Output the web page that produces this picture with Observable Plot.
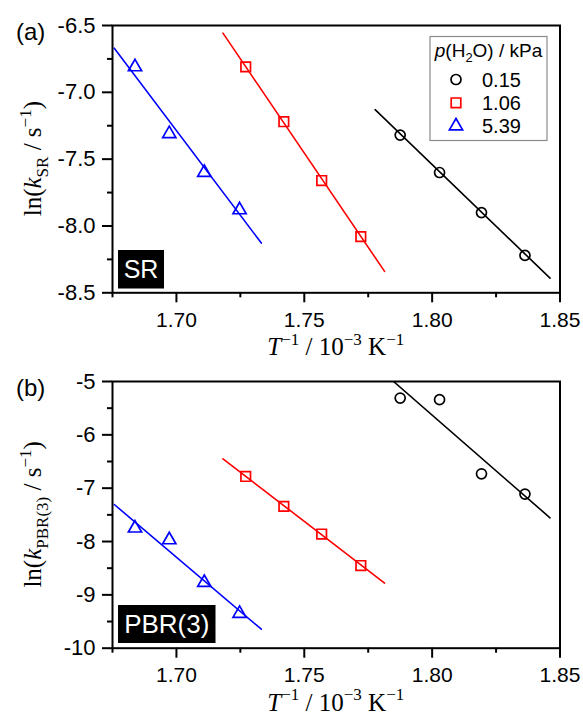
<!DOCTYPE html>
<html><head><meta charset="utf-8">
<script src="https://cdn.jsdelivr.net/npm/d3@7"></script>
<script src="https://cdn.jsdelivr.net/npm/@observablehq/plot@0.6"></script>
<style>
body{margin:0;background:#fff}
#chart{width:583px;height:720px;position:relative}
#chart svg{display:block}
</style>
</head><body><div id="chart"></div>
<script>
// ---------- data ----------
const seriesNames = ["0.15", "1.06", "5.39"];          // p(H2O) / kPa
const seriesColors = ["#000000", "#ff0000", "#0000ff"];
const seriesSymbols = ["circle", "square", "triangle"];

// inverse temperature, 10^-3 K^-1
const invT_015 = [1.7875, 1.8029, 1.8193, 1.8363];
const invT_106 = [1.7271, 1.7420, 1.7568, 1.7721];
const invT_539 = [1.6838, 1.6972, 1.7109, 1.7247];

// panel (a): ln(k_SR / s^-1)
const lnkSR_015 = [-7.32, -7.60, -7.90, -8.22];
const lnkSR_106 = [-6.81, -7.22, -7.66, -8.08];
const lnkSR_539 = [-6.81, -7.31, -7.60, -7.88];

// panel (b): ln(k_PBR(3) / s^-1)
const lnkPBR_015 = [-5.31, -5.34, -6.73, -7.11];
const lnkPBR_106 = [-6.78, -7.34, -7.86, -8.45];
const lnkPBR_539 = [-7.75, -7.97, -8.77, -9.35];

// fitted lines (end points)
const fitSR_x_015 = [1.7777, 1.8461], fitSR_y_015 = [-7.13, -8.39];
const fitSR_x_106 = [1.7182, 1.7814], fitSR_y_106 = [-6.557, -8.34];
const fitSR_x_539 = [1.6757, 1.7332], fitSR_y_539 = [-6.67, -8.128];
const fitPBR_x_015 = [1.7849, 1.8461], fitPBR_y_015 = [-5.0, -7.556];
const fitPBR_x_106 = [1.7182, 1.7814], fitPBR_y_106 = [-6.45, -8.78];
const fitPBR_x_539 = [1.6757, 1.7332], fitPBR_y_539 = [-7.306, -9.644];

// axes
const xDomain = [1.675, 1.85];
const xTicks = [1.70, 1.75, 1.80, 1.85];
const xMinor = [1.675, 1.725, 1.775, 1.825];
const yDomainA = [-8.5, -6.5];
const yTicksA = [-6.5, -7.0, -7.5, -8.0, -8.5];
const yMinorA = [-6.75, -7.25, -7.75, -8.25];
const yDomainB = [-10, -5];
const yTicksB = [-5, -6, -7, -8, -9, -10];
const yMinorB = [-5.5, -6.5, -7.5, -8.5, -9.5];

// ---------- helpers ----------
const SANS = "'Liberation Sans', Arial, sans-serif";
const SERIF = "'Liberation Serif', 'Times New Roman', serif";
const symR = {circle: 5.0, square: 5.4, triangle: 4.9};

function zip(xs, ys) { return xs.map((x, i) => ({x, y: ys[i]})); }

function richText(g, parts, fs) {
  let shift = 0;
  parts.forEach(p => {
    const ts = g.append("tspan").text(p.t);
    let s = 0, size = fs;
    if (p.sub) { s = 0.28 * fs; size = fs * 0.68; }
    if (p.sup) { s = -0.42 * fs; size = fs * 0.68; }
    ts.attr("font-size", size);
    if (s - shift !== 0) ts.attr("dy", s - shift);
    shift = s;
    if (p.i) ts.attr("font-style", "italic");
  });
}

function panel(cfg) {
  const marks = [
    Plot.axisX(xMinor, {tickSize: 5, strokeWidth: 2, tickFormat: () => "", label: null}),
    Plot.axisX(xTicks, {tickSize: 10, strokeWidth: 2, tickPadding: 9, fontSize: 21,
      tickFormat: d => d.toFixed(2), label: null}),
    Plot.axisY(cfg.yMinor, {tickSize: 5, strokeWidth: 2, tickFormat: () => "", label: null}),
    Plot.axisY(cfg.yTicks, {tickSize: 10, strokeWidth: 2, tickPadding: 7, fontSize: 22,
      tickFormat: cfg.yFmt, label: null})
  ];
  cfg.series.forEach((s, i) => {
    marks.push(Plot.line(zip(s.fx, s.fy), {x: "x", y: "y", stroke: seriesColors[i], strokeWidth: 1.6, clip: true}));
    marks.push(Plot.dot(zip(s.x, s.y), {x: "x", y: "y", symbol: seriesSymbols[i], r: symR[seriesSymbols[i]],
      stroke: seriesColors[i], strokeWidth: 1.7, fill: "none"}));
  });
  marks.push(Plot.frame({stroke: "#000", strokeWidth: 2}));
  const svg = Plot.plot({
    width: 583, height: 360,
    marginLeft: 112, marginRight: 23.5, marginTop: cfg.mt, marginBottom: cfg.mb,
    style: {fontFamily: SANS, color: "#000", background: "#fff", overflow: "visible"},
    x: {domain: xDomain, label: null},
    y: {domain: cfg.yDomain, label: null},
    marks
  });
  const sel = d3.select(svg);
  const fx = (112 + 559.5) / 2;
  const fy = (cfg.mt + 360 - cfg.mb) / 2;
  // y title
  const yt = sel.append("text").attr("transform", `translate(41,${fy}) rotate(-90)`)
    .attr("text-anchor", "middle").attr("font-family", SERIF).attr("font-size", 25).attr("fill", "#000");
  richText(yt, [{t: "ln("}, {t: "k", i: true}, {t: cfg.sub, sub: true}, {t: " / s"}, {t: "\u22121", sup: true}, {t: ")"}], 25);
  // x title
  const xt = sel.append("text").attr("x", fx).attr("y", 360 - cfg.mb + 63)
    .attr("text-anchor", "middle").attr("font-family", SERIF).attr("font-size", 25).attr("fill", "#000");
  richText(xt, [{t: "T", i: true}, {t: "\u22121", sup: true}, {t: " / 10"}, {t: "\u22123", sup: true}, {t: " K"}, {t: "\u22121", sup: true}], 25);
  // panel letter
  sel.append("text").attr("x", 16).attr("y", cfg.mt + 15).attr("text-anchor", "start")
    .attr("font-family", SANS).attr("font-size", 24).attr("fill", "#000").text(cfg.letter);
  // tag box
  const b = cfg.box;
  sel.append("rect").attr("x", b.x).attr("y", b.y).attr("width", b.w).attr("height", b.h).attr("fill", "#000");
  sel.append("text").attr("x", b.x + b.w / 2).attr("y", b.y + b.h / 2 + 9).attr("text-anchor", "middle")
    .attr("font-family", SANS).attr("font-size", b.fs).attr("fill", "#fff").text(cfg.tag);
  return svg;
}

const root = document.getElementById("chart");

const svgA = panel({
  mt: 25, mb: 67.7, yDomain: yDomainA, yTicks: yTicksA, yMinor: yMinorA, yFmt: d => d.toFixed(1),
  sub: "SR", letter: "(a)", tag: "SR", box: {x: 118, y: 250, w: 46, h: 38.5, fs: 25},
  series: [
    {x: invT_015, y: lnkSR_015, fx: fitSR_x_015, fy: fitSR_y_015},
    {x: invT_106, y: lnkSR_106, fx: fitSR_x_106, fy: fitSR_y_106},
    {x: invT_539, y: lnkSR_539, fx: fitSR_x_539, fy: fitSR_y_539}
  ]
});
// legend in panel (a)
{
  const sel = d3.select(svgA);
  const g = sel.append("g");
  g.append("rect").attr("x", 430).attr("y", 36.5).attr("width", 117).attr("height", 104)
    .attr("fill", "#fff").attr("stroke", "#8a8a8a").attr("stroke-width", 1.2);
  const tt = g.append("text").attr("x", 488.5).attr("y", 57).attr("text-anchor", "middle")
    .attr("font-family", SANS).attr("font-size", 19).attr("fill", "#000");
  richText(tt, [{t: "p", i: true}, {t: "(H"}, {t: "2", sub: true}, {t: "O) / kPa"}], 19);
  const symType = {circle: d3.symbolCircle, square: d3.symbolSquare, triangle: d3.symbolTriangle};
  seriesNames.forEach((name, i) => {
    const cy = 79.5 + i * 23.3;
    const s = seriesSymbols[i];
    g.append("path").attr("transform", `translate(456,${cy})`)
      .attr("d", d3.symbol(symType[s], Math.PI * symR[s] * symR[s])())
      .attr("fill", "none").attr("stroke", seriesColors[i]).attr("stroke-width", 1.7);
    g.append("text").attr("x", 482).attr("y", cy + 7).attr("text-anchor", "start")
      .attr("font-family", SANS).attr("font-size", 20).attr("fill", "#000").text(name);
  });
}

const svgB = panel({
  mt: 21, mb: 72.3, yDomain: yDomainB, yTicks: yTicksB, yMinor: yMinorB, yFmt: d => d.toFixed(0),
  sub: "PBR(3)", letter: "(b)", tag: "PBR(3)", box: {x: 118, y: 245, w: 97.5, h: 38, fs: 26},
  series: [
    {x: invT_015, y: lnkPBR_015, fx: fitPBR_x_015, fy: fitPBR_y_015},
    {x: invT_106, y: lnkPBR_106, fx: fitPBR_x_106, fy: fitPBR_y_106},
    {x: invT_539, y: lnkPBR_539, fx: fitPBR_x_539, fy: fitPBR_y_539}
  ]
});

root.appendChild(svgA);
root.appendChild(svgB);
</script>
</body></html>
